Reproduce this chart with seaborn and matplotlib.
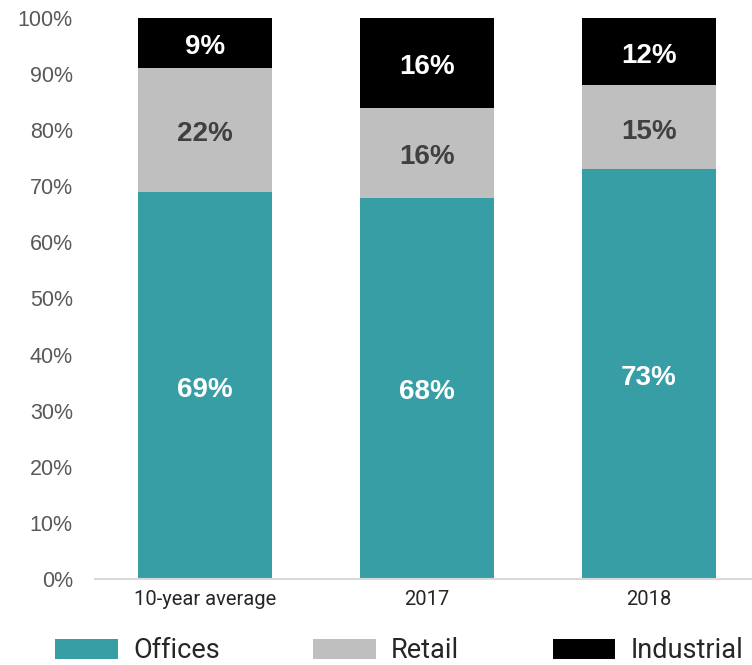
import matplotlib
matplotlib.use("Agg")
import matplotlib.pyplot as plt
import seaborn as sns
import pandas as pd
import numpy as np
from matplotlib.patches import Patch

# Share of investment volume by sector
categories = ["10-year average", "2017", "2018"]
offices = [69, 68, 73]
retail = [22, 16, 15]
industrial = [9, 16, 12]

sectors = ["Offices", "Retail", "Industrial"]
colors = {"Offices": "#389ea5", "Retail": "#bfbfbf", "Industrial": "#000000"}
label_colors = {"Offices": "white", "Retail": "#404040", "Industrial": "white"}

sns.set_theme(style="white")
plt.rcParams["font.family"] = ["Liberation Sans", "DejaVu Sans"]

df = pd.DataFrame({"category": categories, "Offices": offices,
                   "Retail": retail, "Industrial": industrial})
df["bottom_Offices"] = 0
df["bottom_Retail"] = df["Offices"]
df["bottom_Industrial"] = df["Offices"] + df["Retail"]

fig = plt.figure(figsize=(7.52, 6.65), dpi=100)
ax = fig.add_axes([95 / 752, 1 - 579 / 665, 1 - 95 / 752, (579 - 18) / 665])

# Stack by drawing cumulative totals from the top layer down
for sec in reversed(sectors):
    top = df["bottom_" + sec] + df[sec]
    sns.barplot(x=df["category"], y=top, color=colors[sec], width=0.604,
                saturation=1, ax=ax, linewidth=0)

# Segment value labels
for i, cat in enumerate(categories):
    for sec in sectors:
        v = df.loc[i, sec]
        mid = df.loc[i, "bottom_" + sec] + v / 2
        ax.annotate(f"{v}%", (i, mid), xytext=(0, -3), textcoords="offset points",
                    ha="center", va="center", fontsize=20, fontweight="bold",
                    color=label_colors[sec],
                    family=["Liberation Sans", "DejaVu Sans"])

ax.set_ylim(0, 100)
ax.set_xlim(-0.495, 2.464)
ax.set_yticks(np.arange(0, 101, 10))
ax.set_yticklabels([f"{t}%" for t in range(0, 101, 10)])
ax.tick_params(axis="y", length=0, pad=16, labelsize=15.5, labelcolor="#595959")
ax.tick_params(axis="x", length=0, pad=8, labelsize=14.5, labelcolor="#262626")
for lab in ax.get_xticklabels():
    lab.set_family(["Roboto", "DejaVu Sans"])
ax.set_xlabel("")
ax.set_ylabel("")
for s in ["top", "right", "left"]:
    ax.spines[s].set_visible(False)
ax.spines["bottom"].set_color("#d9d9d9")
ax.spines["bottom"].set_linewidth(1.5)
ax.grid(False)

handles = [Patch(facecolor=colors[s], edgecolor="none", label=s) for s in sectors]
leg = fig.legend(handles=handles, loc="center left",
                 bbox_to_anchor=(31 / 752, 1 - 651 / 665),
                 ncol=3, frameon=False, handlelength=2.32,
                 handleheight=0.74, handletextpad=0.55, columnspacing=3.45,
                 prop={"family": ["Roboto", "DejaVu Sans"], "size": 19.5})
for t in leg.get_texts():
    t.set_color("#262626")

fig.savefig("out.png", dpi=100)
